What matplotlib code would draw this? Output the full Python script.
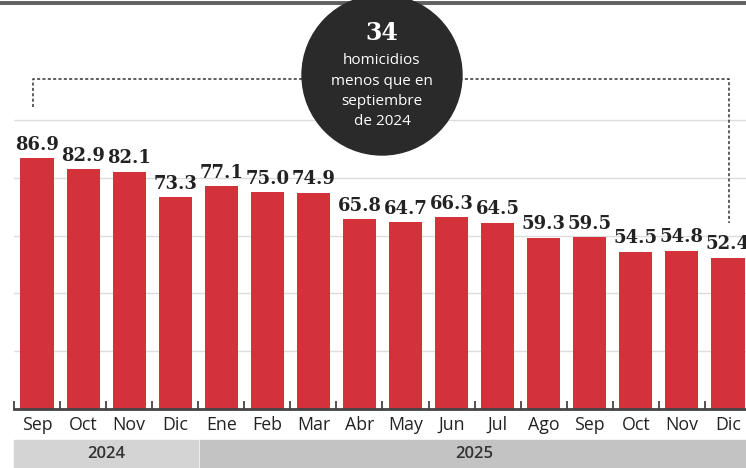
import matplotlib.pyplot as plt
from matplotlib.patches import Circle, Rectangle
from matplotlib.transforms import blended_transform_factory

months = ["Sep", "Oct", "Nov", "Dic", "Ene", "Feb", "Mar", "Abr",
          "May", "Jun", "Jul", "Ago", "Sep", "Oct", "Nov", "Dic"]
values = [86.9, 82.9, 82.1, 73.3, 77.1, 75.0, 74.9, 65.8,
          64.7, 66.3, 64.5, 59.3, 59.5, 54.5, 54.8, 52.4]
years = ["2024", "2025"]
year_spans = [(0, 3), (4, 15)]
note_number = "34"
note_lines = ["homicidios", "menos que en", "septiembre", "de 2024"]

red = "#d3323b"
dark = "#2b2a2a"

fig = plt.figure(figsize=(7.46, 4.68), dpi=100)
ax = fig.add_axes([14 / 746, 59 / 468, 737 / 746, 406 / 468])

x = list(range(len(values)))
ax.bar(x, values, width=0.72, color=red, zorder=3)
for xi, v in zip(x, values):
    ax.text(xi, v + 1.5, f"{v:.1f}", ha="center", va="bottom",
            family="DejaVu Serif", weight="bold", size=13,
            color="#222222", zorder=4)

ax.set_xlim(-0.5, len(values) - 0.5)
ax.set_ylim(0, 140.5)
ax.set_yticks([20, 40, 60, 80, 100])
ax.yaxis.grid(True, color="#dcdcdc", lw=1, zorder=0)
ax.tick_params(axis="y", length=0, labelleft=False)

ax.set_xticks(x)
ax.set_xticklabels(months, family="Open Sans", size=12.8, color="#222222")
ax.set_xticks([i - 0.5 for i in range(len(values) + 1)], minor=True)
ax.tick_params(axis="x", which="major", length=0, pad=5)
ax.tick_params(axis="x", which="minor", direction="in", length=5.5,
               width=1.3, color="#444444")

for s in ["top", "left", "right"]:
    ax.spines[s].set_visible(False)
ax.spines["bottom"].set_color("#444444")
ax.spines["bottom"].set_linewidth(2)
ax.spines["bottom"].set_zorder(5)

# top rule
ax.plot([-0.02, 1.0], [1, 1], transform=ax.transAxes, color="#606060",
        lw=2.8, clip_on=False, zorder=1)

# year bands
tb = blended_transform_factory(ax.transData, fig.transFigure)
band_colors = ["#d4d4d4", "#c3c3c3"]
for yr, (a, b), c in zip(years, year_spans, band_colors):
    left = a - 0.5 + (0.04 if a > 0 else 0)
    ax.add_patch(Rectangle((left, 0), b + 0.5 - left, 28 / 468, transform=tb,
                           color=c, clip_on=False, zorder=1))
    ax.text((a + b) / 2, 14 / 468, yr, transform=tb, ha="center", va="center",
            family="Open Sans", weight="semibold", size=12, color="#333333")

# dotted bracket
y_br = 114.2
ax.plot([-0.09, -0.09, 15.02, 15.02], [104.5, y_br, y_br, 64.4],
        color="#333333", lw=1.1, ls=(0, (2, 1.5)), zorder=2, clip_on=False)

# note circle
ax.add_artist(Circle((3.82, 3.93), 0.80, transform=fig.dpi_scale_trans,
                     color=dark, zorder=6, clip_on=False))
fig.text(382 / 746, 1 - 33 / 468, note_number, ha="center", va="center",
         family="DejaVu Serif", weight="bold", size=17, color="white",
         zorder=7)
for i, line in enumerate(note_lines):
    fig.text(382 / 746, 1 - (61 + i * 20.3) / 468, line, ha="center",
             va="center", family="Open Sans", size=11, color="white",
             zorder=7)

fig.savefig("out.png", dpi=100)
